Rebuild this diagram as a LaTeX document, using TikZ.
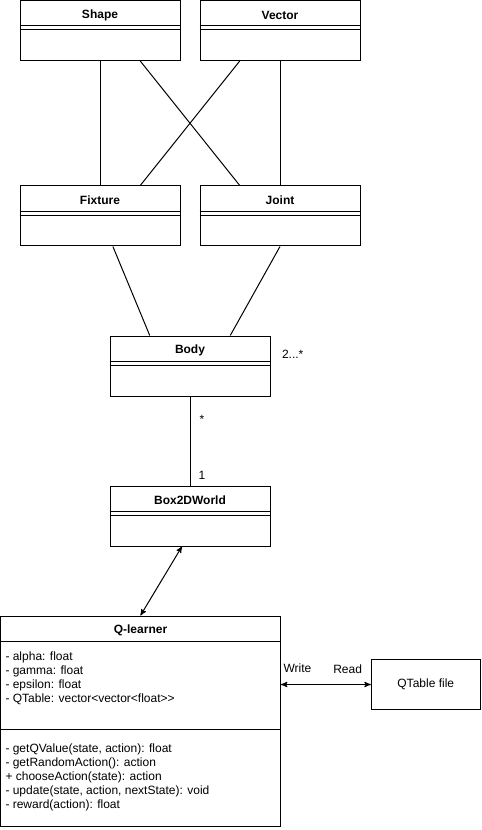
\documentclass[tikz,border=0pt]{standalone}
\usepackage{fontspec}
\setmainfont{Liberation Sans}
\usetikzlibrary{calc,positioning,arrows}

\begin{document}
\begin{tikzpicture}[x=0.75pt,y=-0.75pt,>=stealth',line width=0.75pt,
    cls/.style={draw,rectangle,inner sep=0pt,minimum width=120pt,minimum height=45pt},
    ttl/.style={font=\fontsize{9}{10.5}\selectfont\bfseries,inner sep=0pt},
    txt/.style={font=\fontsize{9}{10.5}\selectfont,inner sep=0pt,anchor=base west}]
   \useasboundingbox (0,0) rectangle (481,830);
%
   \node[cls]           (N1) at (100,30.5) {};
   \node[cls]           (N2) at (280,30.5) {};
   \node[cls]           (N3) at (100,216) {};
   \node[cls]           (N4) at (280,216) {};
   \node[cls]           (N5) at (190,366) {};
   \node[cls]           (N6) at (190,516) {};
   \foreach \n/\t in {N1/Shape,N2/Vector,N3/Fixture,N4/Joint,N5/Body,N6/Box2DWorld}{
      \node[ttl] (\n t) at ($(\n.north)+(0,15)$) {\t};
      \draw ($(\n.north west)+(0,26)$) -- ($(\n.north east)+(0,26)$);
      \draw ($(\n.north west)+(0,30)$) -- ($(\n.north east)+(0,30)$);
   }
%
   \node[draw,inner sep=0pt,minimum width=210pt,minimum height=157.5pt] (N7) at (140.5,721) {};
   \node[ttl]           (N7t) at ($(N7.north)+(0,15)$) {Q-learner};
   \draw ($(N7.north west)+(0,26)$) -- ($(N7.north east)+(0,26)$);
   \draw ($(N7.north west)+(0,114)$) -- ($(N7.north east)+(0,114)$);
   \foreach \t [count=\i] in {- alpha: float,- gamma: float,- epsilon: float,- QTable: vector<vector<float>{}>}
      \node[txt] (A\i) at (5,646+14*\i) {\t};
   \foreach \t [count=\i] in {{- getQValue(state, action): float},- getRandomAction(): action,+ chooseAction(state): action,{- update(state, action, nextState): void},- reward(action): float}
      \node[txt] (M\i) at (5,738+14*\i) {\t};
   \node[draw,inner sep=0pt,minimum width=81.75pt,minimum height=37.5pt,font=\fontsize{9}{10.5}\selectfont] (N8) at (425.75,684.5) {QTable file};
%
   \draw (N1.south) -- (N3.north);
   \draw (N2.south) -- (N4.north);
   \draw ($(N1.south)!0.5!(N1.south east)$) -- ($(N4.north west)!0.5!(N4.north)$);
   \draw ($(N2.south west)!0.5!(N2.south)$) -- ($(N3.north)!0.5!(N3.north east)$);
   \draw ($(N3.south west)!0.58!(N3.south east)$) -- ($(N5.north west)!0.25!(N5.north east)$);
   \draw (N4.south) -- ($(N5.north west)!0.75!(N5.north east)$);
   \draw (N5.south) -- (N6.north);
   \draw[<->] ($(N6.south west)!0.45!(N6.south east)$) -- (N7.north);
   \draw[<->] ($(N7.north east)+(0,69)$) -- (N8.west);
%
   \node[txt] at ($(N5.north east)+(11,23)$) {2...*};
   \node[txt] at ($(N5.south)+(9,27)$) {*};
   \node[txt] at ($(N6.north)+(8,-6)$) {1};
   \node[txt] at ($(N7.north east)+(2,57)$) {Write};
   \node[txt] at ($(N8.north west)+(-38,14)$) {Read};
\end{tikzpicture}
\end{document}
